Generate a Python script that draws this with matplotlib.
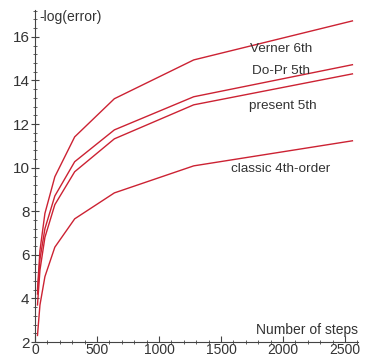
import matplotlib
matplotlib.use("Agg")
import matplotlib.pyplot as plt
from matplotlib.ticker import MultipleLocator

plt.rcParams['font.family'] = ['Liberation Sans', 'DejaVu Sans']

steps = [20, 40, 80, 160, 320, 640, 1280, 2560]
verner6 = [4.4, 6.2, 7.9, 9.58, 11.41, 13.16, 14.94, 16.73]
dopri5 = [4.2, 5.8, 7.2, 8.7, 10.27, 11.73, 13.25, 14.72]
present5 = [3.7, 5.3, 6.8, 8.3, 9.81, 11.32, 12.88, 14.30]
classic4 = [2.3, 3.7, 5.0, 6.35, 7.65, 8.84, 10.08, 11.23]

labels = ["Verner 6th", "Do-Pr 5th", "present 5th", "classic 4th-order"]
label_pos = [(1984, 15.45), (1984, 14.44), (2000, 12.83), (1984, 9.94)]

fig = plt.figure(figsize=(3.76, 3.6), dpi=100)
ax = fig.add_axes([35/376, 18/360, 323/376, 332/360])

col = '#cc2233'
for ys in (verner6, dopri5, present5, classic4):
    ax.plot(steps, ys, color=col, lw=1)

for txt, (x, y) in zip(labels, label_pos):
    ax.text(x, y, txt, ha='center', va='center', fontsize=9.7, color='#333333')

ax.set_xlim(0, 2605)
ax.set_ylim(2, 17.23)

for s in ('top', 'right'):
    ax.spines[s].set_visible(False)
ax.spines['left'].set_color('#444444')
ax.spines['bottom'].set_color('#444444')

ax.xaxis.set_major_locator(MultipleLocator(500))
ax.xaxis.set_minor_locator(MultipleLocator(100))
ax.yaxis.set_major_locator(MultipleLocator(2))
ax.yaxis.set_minor_locator(MultipleLocator(0.4))
ax.tick_params(which='major', direction='inout', length=6, width=0.8,
               labelsize=11, colors='#444444', labelcolor='#333333', pad=1)
ax.tick_params(which='minor', direction='inout', length=3, width=0.6,
               colors='#444444')
ax.tick_params(axis='x', which='major', direction='in', length=4,
               labelsize=10, pad=1)

ax.text(0.012, 1.0, "-log(error)", transform=ax.transAxes, ha='left', va='top',
        fontsize=10, color='#333333')
ax.text(1.0, 0.015, "Number of steps", transform=ax.transAxes, ha='right',
        va='bottom', fontsize=10, color='#333333')

fig.savefig("out.png", dpi=100)
